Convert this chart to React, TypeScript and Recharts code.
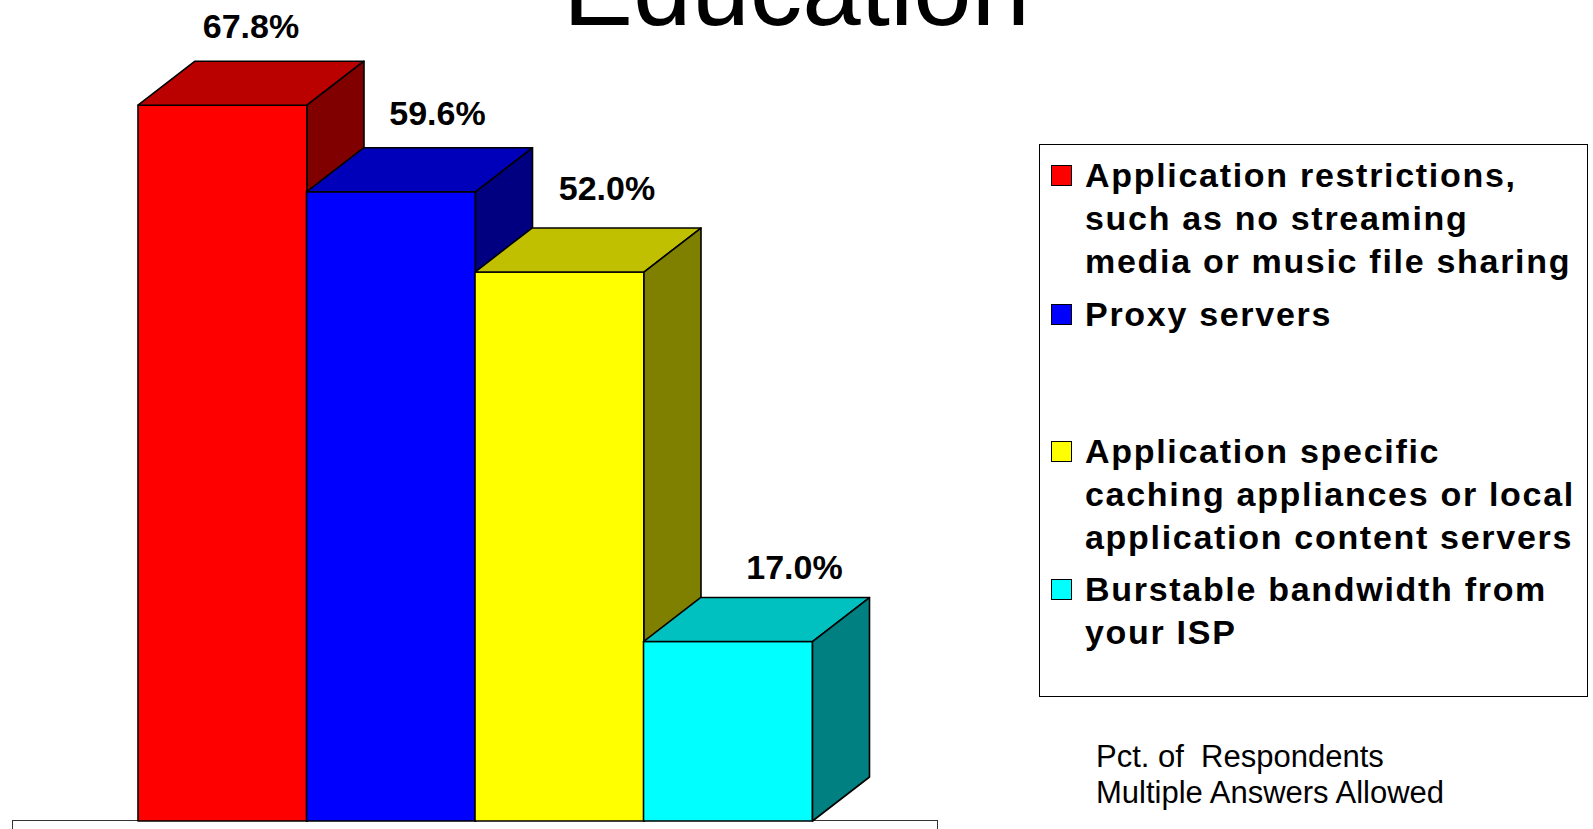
import { Bar, BarChart, LabelList, XAxis, YAxis } from 'recharts';

const categories = [
  'Application restrictions,\nsuch as no streaming\nmedia or music file sharing',
  'Proxy servers',
  'Application specific\ncaching appliances or local\napplication content servers',
  'Burstable bandwidth from\nyour ISP',
];
const shortNames = ['Application restrictions', 'Proxy servers', 'Caching appliances', 'Burstable bandwidth'];
const percents = [67.8, 59.6, 52.0, 17.0];
const footnoteLines = ['Pct. of  Respondents', 'Multiple Answers Allowed'];
const title = 'Education';

const frontColors = ['#ff0000', '#0000ff', '#ffff00', '#00ffff'];
const topColors = ['#bb0000', '#0000bb', '#c0c000', '#00c0c0'];
const sideColors = ['#800000', '#000080', '#808000', '#008080'];

// small nudges so the value labels sit where the original slide put them
const labelShiftX = [0, 18, 19, 38];
const labelShiftY = [0, 0, -5, 4];

const data = shortNames.map((name, i) => ({ name, value: percents[i] }));

const DX = 57;
const DY = 44;
const FONT = '"Liberation Sans", Arial, sans-serif';

const indexOf = (props: any) =>
  typeof props.index === 'number' ? props.index : shortNames.indexOf(props?.payload?.name);

function Box3D(props: any) {
  const { x, y, width, height } = props;
  const i = indexOf(props);
  const top = `${x},${y} ${x + DX},${y - DY} ${x + width + DX},${y - DY} ${x + width},${y}`;
  const side = `${x + width},${y} ${x + width + DX},${y - DY} ${x + width + DX},${y + height - DY} ${x + width},${y + height}`;
  return (
    <g stroke="#000" strokeWidth={1.6} strokeLinejoin="round">
      <rect x={x} y={y} width={width} height={height} fill={frontColors[i]} />
      <polygon points={top} fill={topColors[i]} />
      <polygon points={side} fill={sideColors[i]} />
    </g>
  );
}

function TopLabel(props: any) {
  const { x, y, width, value, index } = props;
  const i = typeof index === 'number' ? index : percents.indexOf(Number(value));
  return (
    <text
      x={x + width / 2 + DX / 2 + (labelShiftX[i] ?? 0)}
      y={y - DY - 23 + (labelShiftY[i] ?? 0)}
      textAnchor="middle"
      fontFamily={FONT}
      fontWeight="bold"
      fontSize={34}
      fill="#000"
    >
      {`${Number(value).toFixed(1)}%`}
    </text>
  );
}

const itemTops = [9, 148, 285, 423];

function LegendBox() {
  return (
    <div
      style={{
        position: 'absolute',
        left: 1039,
        top: 144,
        width: 549,
        height: 553,
        boxSizing: 'border-box',
        border: '1.5px solid #000',
        background: '#fff',
        fontFamily: FONT,
      }}
    >
      {categories.map((label, i) => (
        <div key={i} style={{ position: 'absolute', left: 0, top: itemTops[i] }}>
          <div
            style={{
              position: 'absolute',
              left: 11,
              top: 11,
              width: 19,
              height: 19,
              background: frontColors[i],
              border: '1.5px solid #000',
            }}
          />
          <div
            style={{
              position: 'absolute',
              left: 45,
              top: 0,
              whiteSpace: 'pre',
              fontWeight: 'bold',
              fontSize: 34,
              lineHeight: '43px',
              letterSpacing: 1.7,
              color: '#000',
            }}
          >
            {label}
          </div>
        </div>
      ))}
    </div>
  );
}

export default function App() {
  return (
    <div style={{ position: 'absolute', left: 0, top: 0, width: 1593, height: 829, overflow: 'hidden', background: '#fff' }}>
      <div
        style={{
          position: 'absolute',
          left: 12,
          top: 820,
          width: 926,
          height: 30,
          boxSizing: 'border-box',
          border: '1.5px solid #333',
        }}
      />
      <div
        style={{
          position: 'absolute',
          left: 0,
          width: 1593,
          top: -71,
          textAlign: 'center',
          fontFamily: FONT,
          fontSize: 105,
          lineHeight: '120px',
          color: '#000',
        }}
      >
        {title}
      </div>
      <div style={{ position: 'absolute', left: 0, top: 0 }}>
        <BarChart
          width={1593}
          height={829}
          data={data}
          margin={{ top: 82, right: 781, bottom: 8, left: 138 }}
          barCategoryGap={0}
          barGap={0}
        >
          <XAxis dataKey="name" hide />
          <YAxis hide domain={[0, 70]} />
          <Bar dataKey="value" shape={Box3D} isAnimationActive={false}>
            <LabelList dataKey="value" content={TopLabel} />
          </Bar>
        </BarChart>
      </div>
      <LegendBox />
      <div
        style={{
          position: 'absolute',
          left: 1096,
          top: 739,
          fontFamily: FONT,
          fontSize: 31,
          lineHeight: '36px',
          color: '#000',
          whiteSpace: 'pre',
        }}
      >
        {footnoteLines.join('\n')}
      </div>
    </div>
  );
}
